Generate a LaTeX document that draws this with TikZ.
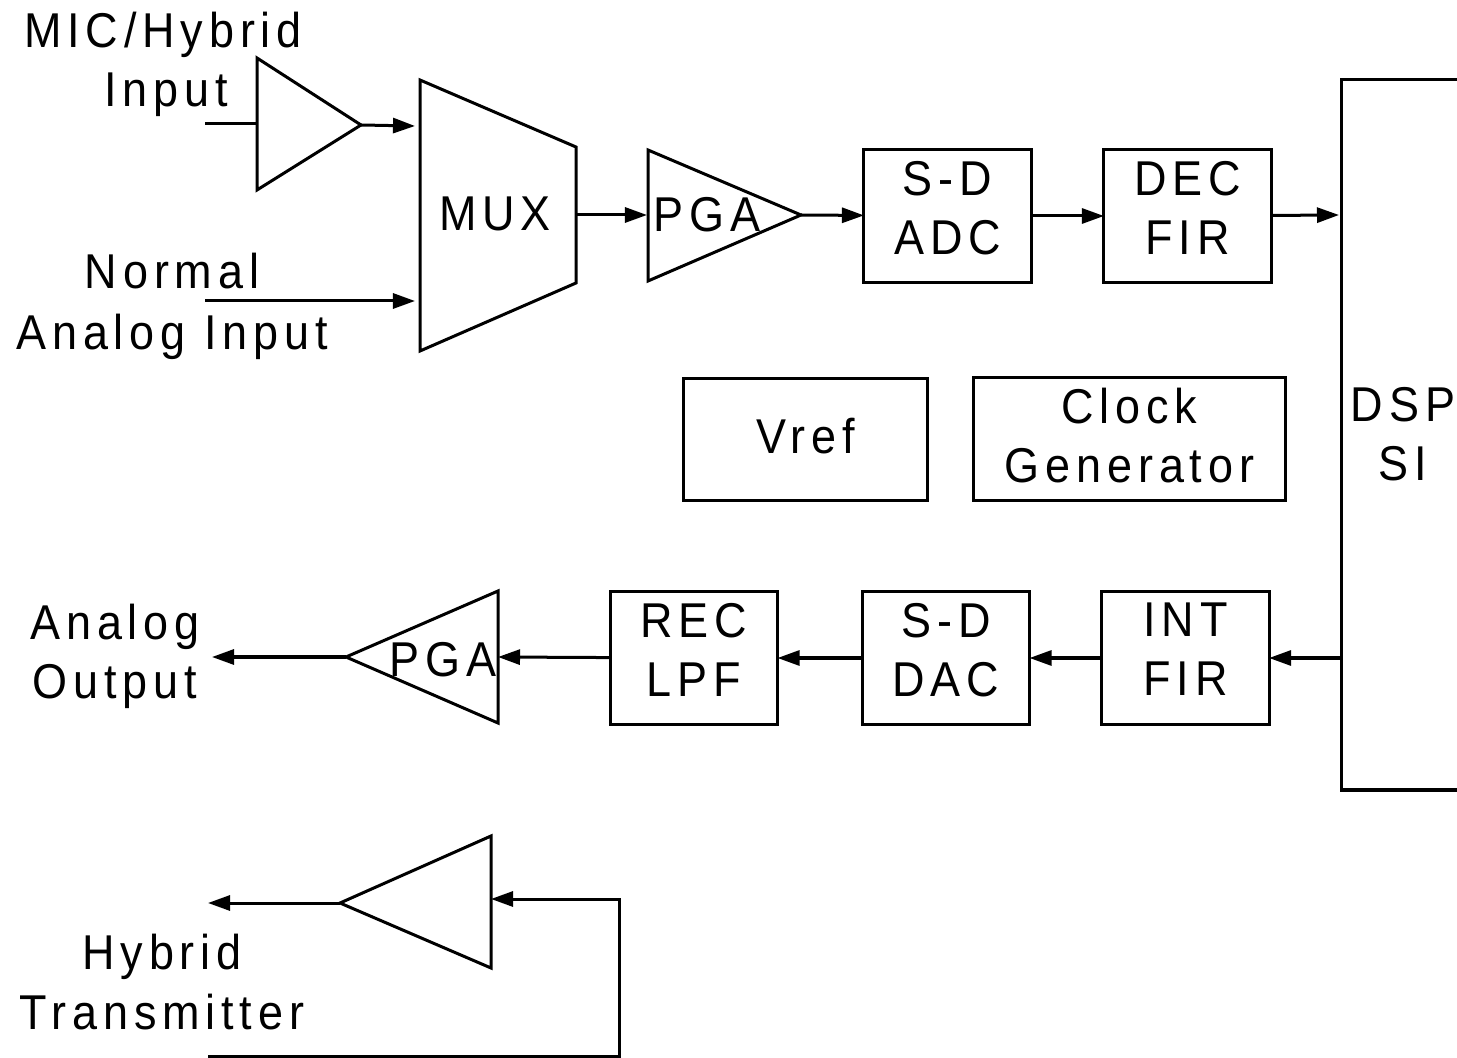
\documentclass[tikz,border=0pt]{standalone}
\usepackage{fontspec}
\setmainfont[LetterSpace=12,FakeStretch=0.92]{Liberation Sans}
\usetikzlibrary{arrows.meta}
\tikzset{x=0.01cm, y=-0.01cm, thickline/.style={line width=0.03cm},
	label text/.style={align=center, inner sep=0, font=\fontsize{13.9}{16.8}\selectfont},
	box/.style={label text, draw, inner sep=0, outer sep=0, text depth=0.17cm, minimum height=1.32cm, minimum width=1.67cm}}

\begin{document}
\begin{tikzpicture}[thickline, >={Triangle[length=0.22cm,width=0.15cm]}]
\useasboundingbox (0,0) rectangle (1457,1058);

\path (163,35) node[label text] (mic) {MIC/Hybrid}
	  (166,95) node[label text] (micin) {Input}
	  (172,271) node[label text] (normal) {Normal}
	  (172,337) node[label text] (analogin) {Analog Input}
	  (115,656) node[label text] (analogout) {Analog\\Output}
	  (162,982) node[label text] (hybrid) {Hybrid\\Transmitter};

\path (947.5,216) node[box] (adc) {S-D\\ADC}
	  (1187.5,216) node[box] (dec) {DEC\\FIR}
	  (1185.5,658) node[box] (int) {INT\\FIR}
	  (946,658) node[box] (dac) {S-D\\DAC}
	  (694,658) node[box] (rec) {REC\\LPF}
	  (805.5,439.5) node[box, text depth=0.07cm, minimum width=2.43cm, minimum height=1.21cm] (vref) {Vref}
	  (1129.5,439) node[box, text depth=0.07cm, minimum width=3.11cm, minimum height=1.22cm] (clock) {Clock\\Generator};

\coordinate (micend) at (361,125);
\coordinate (micstart) at (205,124);
\coordinate (micfoot) at (257,124);
\coordinate (muxtop) at (415,126);
\coordinate (normalstart) at (205,301);
\coordinate (muxbot) at (415,301);
\coordinate (muxout) at (576,215);
\coordinate (pgain) at (647,215);
\coordinate (pgaout) at (801,215);
\coordinate (dspin) at (1339,215);
\coordinate (dspout) at (1341,658);
\coordinate (pgbin) at (498,657);
\coordinate (pgbout) at (346,657);
\coordinate (outend) at (212,657);
\coordinate (hybin) at (491,899);
\coordinate (hybout) at (340,903);
\coordinate (hybend) at (208,903);
\coordinate (hybcorner) at (619,899);
\coordinate (hybbot) at (619,1056);
\coordinate (hybstart) at (208,1056);

\draw (257,58) -- (micend) -- (257,190) -- cycle;
\draw (420,80) -- (576,147) -- (576,283) -- (420,351) -- cycle;
\draw (648,150) -- (pgaout) -- (648,281) -- cycle;
\draw (498,591) -- (pgbout) -- (498,723) -- cycle;
\draw (491,836) -- (hybout) -- (491,968) -- cycle;
\draw (1457,80) -- (1341,80) -- (1341,790) -- (1457,790);

\path (495,214) node[label text] (mux) {MUX}
	  (707,215) node[label text] (pga) {PGA}
	  (443,660) node[label text] (pgb) {PGA}
	  (1403,434) node[label text] (dsp) {DSP\\SI};

\draw (micstart) -- (micfoot);
\draw[->] (micend) -- (muxtop);
\draw[->] (normalstart) -- (muxbot);
\draw[->] (muxout) -- (pgain);
\draw[->] (pgaout) -- (adc);
\draw[->] (adc) -- (dec);
\draw[->] (dec) -- (dspin);
\draw[->] (dspout) -- (int);
\draw[->] (int) -- (dac);
\draw[->] (dac) -- (rec);
\draw[->] (rec) -- (pgbin);
\draw[->] (pgbout) -- (outend);
\draw[->] (hybout) -- (hybend);
\draw[->] (hybstart) -- (hybbot) -- (hybcorner) -- (hybin);
\end{tikzpicture}
\end{document}
